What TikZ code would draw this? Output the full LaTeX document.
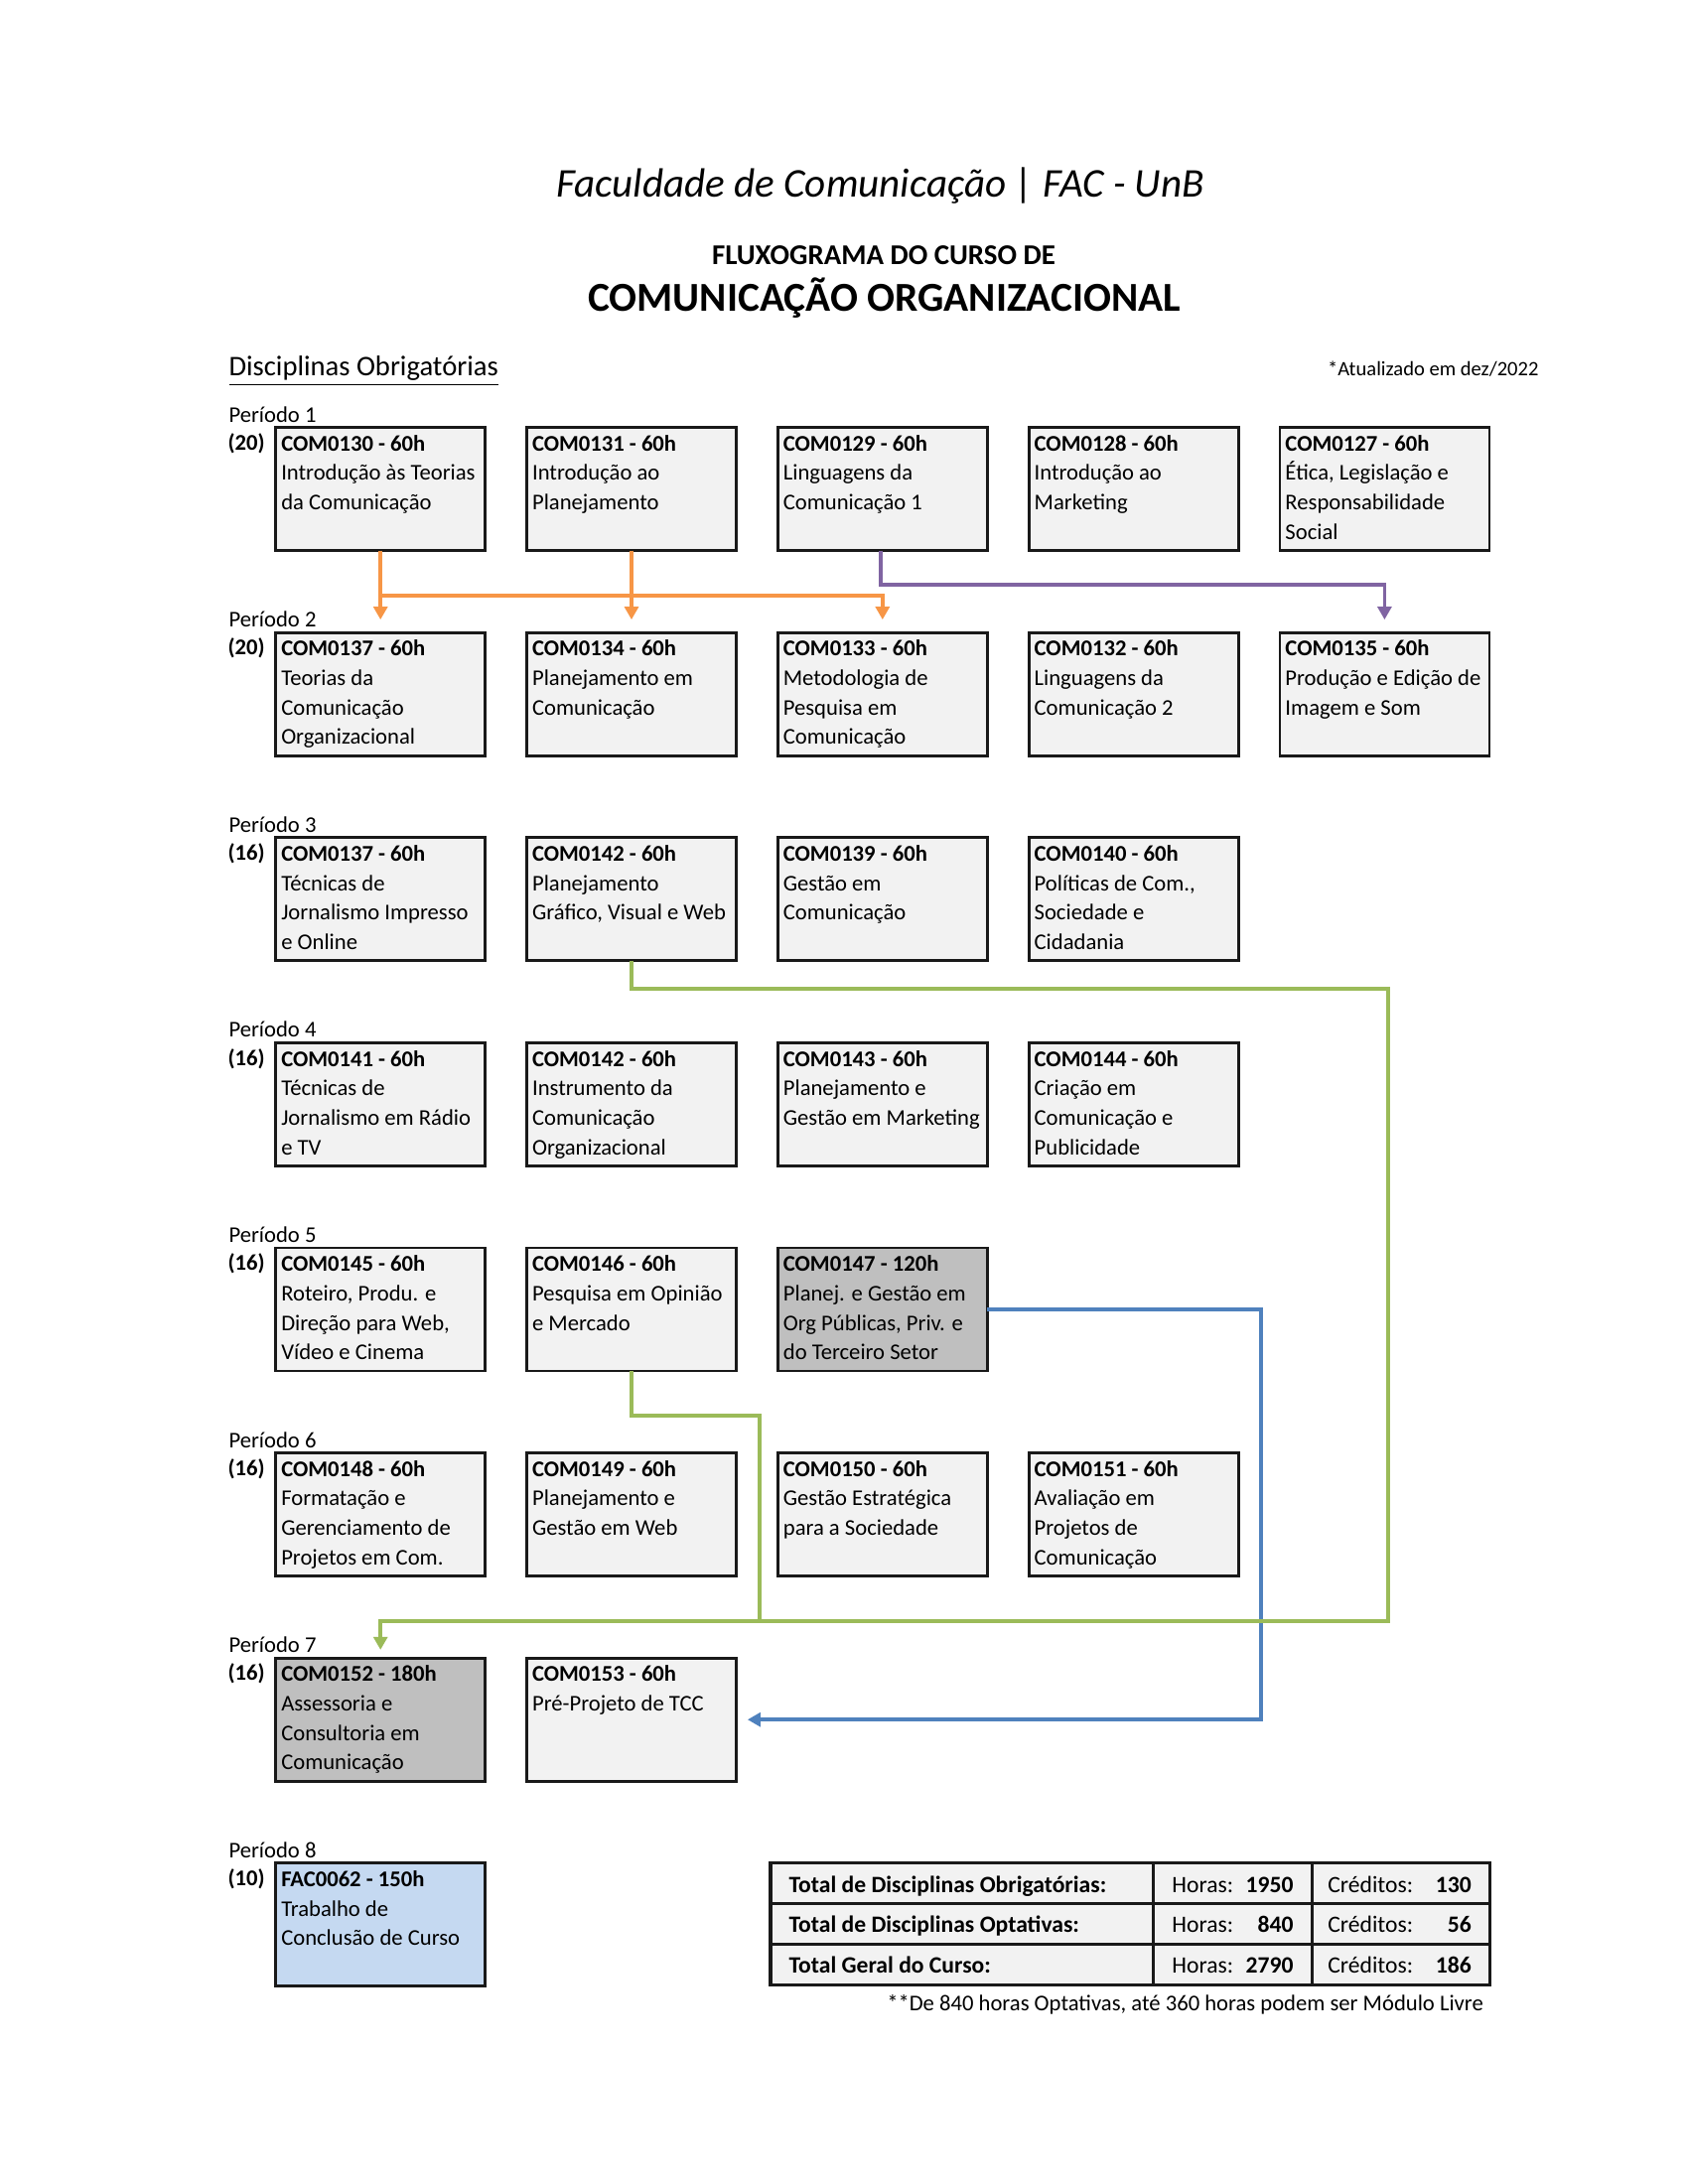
\documentclass[tikz,border=0pt]{standalone}
\usepackage{fontspec}
\setmainfont{Carlito}
\usetikzlibrary{arrows.meta}
\definecolor{lightbox}{HTML}{F2F2F2}
\definecolor{darkbox}{HTML}{BFBFBF}
\definecolor{bluebox}{HTML}{C5D9F1}
\definecolor{corange}{HTML}{F79646}
\definecolor{cpurple}{HTML}{8064A2}
\definecolor{cgreen}{HTML}{9BBB59}
\definecolor{cblue}{HTML}{4F81BD}
\newcommand\ctext[2]{\parbox[c][44.64pt][t]{71.96pt}{\fontsize{8.15}{10.7}\selectfont\raggedright\rule{0pt}{8.5pt}\textbf{#1}\\#2}}
\tikzset{
  course/.style={draw=black!90, line width=1pt, fill=lightbox, anchor=north west, inner xsep=2pt, inner ysep=0pt, outer sep=0pt},
  lbl/.style={font=\fontsize{8.15}{10}\selectfont, inner sep=0pt, anchor=base west},
  conn/.style={line width=1.35pt, -{Triangle[width=5pt,length=4.7pt]}},
  plain/.style={line width=1.35pt},
  tbl/.style={font=\fontsize{8.5}{10}\selectfont, inner sep=0pt}
}
\begin{document}
\begin{tikzpicture}[x=0.36pt,y=-0.36pt]
\useasboundingbox (0,0) rectangle (1700,2200);
\fill[white] (0,0) rectangle (1700,2200);
% headings
\node[inner sep=0pt, anchor=base, font=\fontsize{14.8}{16}\selectfont\itshape] (title) at (886.5,199) {Faculdade de Comunicação | FAC - UnB};
\node[inner sep=0pt, anchor=base, font=\fontsize{10.4}{12}\selectfont\bfseries] (sub1) at (890,267) {FLUXOGRAMA DO CURSO DE};
\node[inner sep=0pt, anchor=base, font=\fontsize{14.9}{16}\selectfont\bfseries] (sub2) at (890.6,313.6) {COMUNICAÇÃO ORGANIZACIONAL};
\node[inner sep=0pt, anchor=base west, font=\fontsize{10.3}{12}\selectfont] (disc) at (230,379) {\underline{Disciplinas Obrigatórias}};
\node[inner sep=0pt, anchor=base east, font=\fontsize{7.4}{9}\selectfont] (upd) at (1550,379) {*Atualizado em dez/2022};
% period labels
\foreach \i/\t/\c in {1/430.6/20,2/637.2/20,3/843.8/16,4/1050.4/16,5/1257.0/16,6/1463.6/16,7/1670.2/16,8/1876.8/10}{
  \node[lbl] (per\i) at (230,\t-5.6) {Período \i};
  \node[lbl, font=\fontsize{8.15}{10}\selectfont\bfseries] (cr\i) at (229,\t+22.7) {(\c)};
}
% Period 1
\node[course] (c11) at (277.7,430.6) {\ctext{COM0130 - 60h}{Introdução às Teorias\\da Comunicação}};
\node[course] (c12) at (530.5,430.6) {\ctext{COM0131 - 60h}{Introdução ao\\Planejamento}};
\node[course] (c13) at (783.3,430.6) {\ctext{COM0129 - 60h}{Linguagens da\\Comunicação 1}};
\node[course] (c14) at (1036.1,430.6) {\ctext{COM0128 - 60h}{Introdução ao\\Marketing}};
\node[course] (c15) at (1288.9,430.6) {\ctext{COM0127 - 60h}{Ética, Legislação e\\Responsabilidade\\Social}};
% Period 2
\node[course] (c21) at (277.7,637.2) {\ctext{COM0137 - 60h}{Teorias da\\Comunicação\\Organizacional}};
\node[course] (c22) at (530.5,637.2) {\ctext{COM0134 - 60h}{Planejamento em\\Comunicação}};
\node[course] (c23) at (783.3,637.2) {\ctext{COM0133 - 60h}{Metodologia de\\Pesquisa em\\Comunicação}};
\node[course] (c24) at (1036.1,637.2) {\ctext{COM0132 - 60h}{Linguagens da\\Comunicação 2}};
\node[course] (c25) at (1288.9,637.2) {\ctext{COM0135 - 60h}{Produção e Edição de\\Imagem e Som}};
% Period 3
\node[course] (c31) at (277.7,843.8) {\ctext{COM0137 - 60h}{Técnicas de\\Jornalismo Impresso\\e Online}};
\node[course] (c32) at (530.5,843.8) {\ctext{COM0142 - 60h}{Planejamento\\Gráfico, Visual e Web}};
\node[course] (c33) at (783.3,843.8) {\ctext{COM0139 - 60h}{Gestão em\\Comunicação}};
\node[course] (c34) at (1036.1,843.8) {\ctext{COM0140 - 60h}{Políticas de Com.,\\Sociedade e\\Cidadania}};
% Period 4
\node[course] (c41) at (277.7,1050.4) {\ctext{COM0141 - 60h}{Técnicas de\\Jornalismo em Rádio\\e TV}};
\node[course] (c42) at (530.5,1050.4) {\ctext{COM0142 - 60h}{Instrumento da\\Comunicação\\Organizacional}};
\node[course] (c43) at (783.3,1050.4) {\ctext{COM0143 - 60h}{Planejamento e\\Gestão em Marketing}};
\node[course] (c44) at (1036.1,1050.4) {\ctext{COM0144 - 60h}{Criação em\\Comunicação e\\Publicidade}};
% Period 5
\node[course] (c51) at (277.7,1257.0) {\ctext{COM0145 - 60h}{Roteiro, Produ. e\\Direção para Web,\\Vídeo e Cinema}};
\node[course] (c52) at (530.5,1257.0) {\ctext{COM0146 - 60h}{Pesquisa em Opinião\\e Mercado}};
\node[course, fill=darkbox] (c53) at (783.3,1257.0) {\ctext{COM0147 - 120h}{Planej. e Gestão em\\Org Públicas, Priv. e\\do Terceiro Setor}};
% Period 6
\node[course] (c61) at (277.7,1463.6) {\ctext{COM0148 - 60h}{Formatação e\\Gerenciamento de\\Projetos em Com.}};
\node[course] (c62) at (530.5,1463.6) {\ctext{COM0149 - 60h}{Planejamento e\\Gestão em Web}};
\node[course] (c63) at (783.3,1463.6) {\ctext{COM0150 - 60h}{Gestão Estratégica\\para a Sociedade}};
\node[course] (c64) at (1036.1,1463.6) {\ctext{COM0151 - 60h}{Avaliação em\\Projetos de\\Comunicação}};
% Period 7
\node[course, fill=darkbox] (c71) at (277.7,1670.2) {\ctext{COM0152 - 180h}{Assessoria e\\Consultoria em\\Comunicação}};
\node[course] (c72) at (530.5,1670.2) {\ctext{COM0153 - 60h}{Pré-Projeto de TCC}};
% Period 8
\node[course, fill=bluebox] (c81) at (277.7,1876.8) {\ctext{FAC0062 - 150h}{Trabalho de\\Conclusão de Curso}};
% connectors
\coordinate (oy) at (0,600.3);
\coordinate (py) at (0,588.7);
\draw[corange, conn, shorten >=4.7pt] (c11.south) -- (c21.north);
\draw[corange, conn, shorten >=4.7pt] (c12.south) -- (c22.north);
\draw[corange, conn, shorten >=4.7pt] (c11.south |- oy) -| (c23.north);
\draw[cpurple, conn, shorten >=4.7pt] ([xshift=-0.6pt]c13.south) -- ([xshift=-0.6pt]c13.south |- py) -| (c25.north);
% blue
\coordinate (bx) at (1270,0);
\draw[cblue, conn, shorten >=4.1pt] (c53.east) -- (bx |- c53.east) -- (bx |- c72.east) -- (c72.east);
% green
\coordinate (g1y) at (0,996);
\coordinate (g1x) at (1397.7,0);
\coordinate (g2y) at (0,1633.3);
\coordinate (g3y) at (0,1426);
\coordinate (g3x) at (764.8,0);
\draw[cgreen, conn, shorten >=3pt] (c32.south) -- (c32.south |- g1y) -- (g1x |- g1y) -- (g1x |- g2y) -| (c71.north);
\draw[cgreen, plain] (c52.south) -- (c52.south |- g3y) -- (g3x |- g3y) -- (g3x |- g2y);
% totals table
\fill[lightbox] (776,1876.7) rectangle (1500.7,1999.3);
\draw[black!90, line width=1.1pt] (776,1876.7) rectangle (1500.7,1999.3);
\draw[black!90, line width=1.1pt] (776,1917.7) -- (1500.7,1917.7) (776,1958.3) -- (1500.7,1958.3);
\draw[black!90, line width=1.1pt] (1161.8,1876.7) -- (1161.8,1999.3) (1321.8,1876.7) -- (1321.8,1999.3);
\foreach \k/\b/\lab/\h/\cr in {1/1906/Total de Disciplinas Obrigatórias:/1950/130, 2/1946.7/Total de Disciplinas Optativas:/840/56, 3/1987.7/Total Geral do Curso:/2790/186}{
  \node[tbl, anchor=base west, font=\fontsize{8.5}{10}\selectfont\bfseries] (tl\k) at (794,\b) {\lab};
  \node[tbl, anchor=base west] (th\k) at (1179.8,\b) {Horas:};
  \node[tbl, anchor=base east, font=\fontsize{8.5}{10}\selectfont\bfseries] (tn\k) at (1303,\b) {\h};
  \node[tbl, anchor=base west] (tc\k) at (1336.8,\b) {Créditos:};
  \node[tbl, anchor=base east, font=\fontsize{8.5}{10}\selectfont\bfseries] (tk\k) at (1482.3,\b) {\cr};
}
\node[lbl, anchor=base east] (foot) at (1494.4,2025.5) {**De 840 horas Optativas, até 360 horas podem ser Módulo Livre};
\end{tikzpicture}
\end{document}
